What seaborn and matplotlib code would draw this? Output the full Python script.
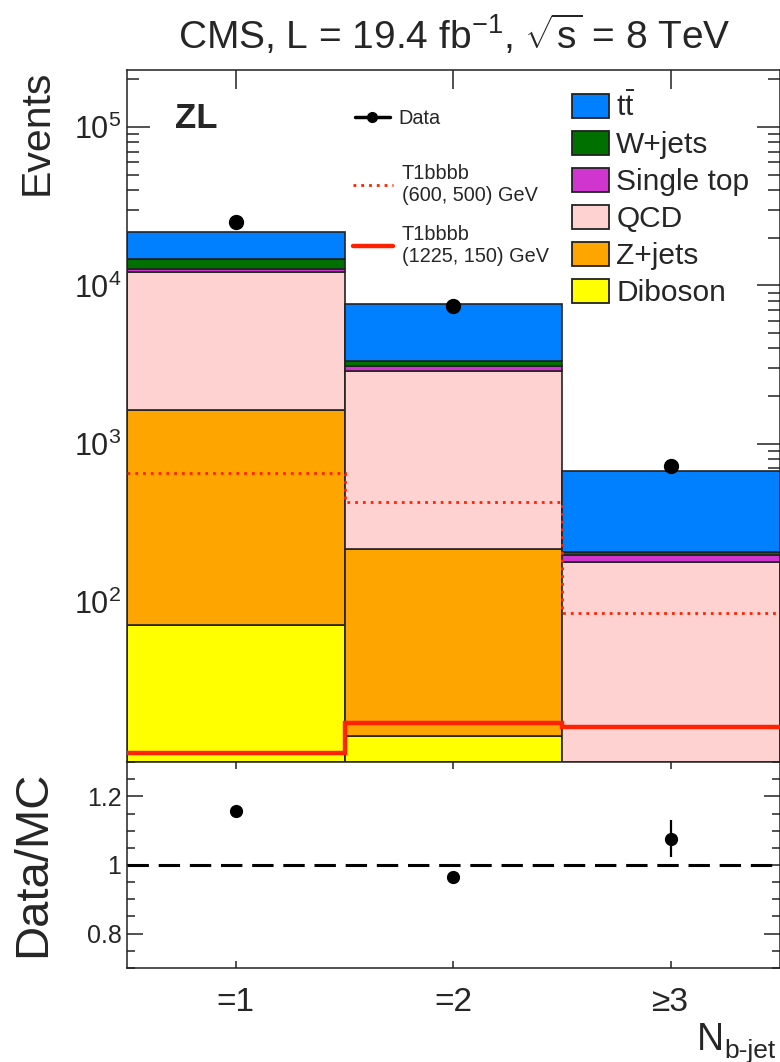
import numpy as np
import pandas as pd
import matplotlib
matplotlib.use("Agg")
import matplotlib.pyplot as plt
import seaborn as sns
from matplotlib.patches import Patch
from matplotlib.lines import Line2D
from matplotlib.ticker import FixedLocator, NullFormatter, NullLocator, LogLocator, MultipleLocator, FuncFormatter

sns.set_theme(style="ticks")
plt.rcParams["font.family"] = ["Liberation Sans", "DejaVu Sans"]
plt.rcParams["mathtext.fontset"] = "custom"
plt.rcParams["mathtext.rm"] = "Liberation Sans"
plt.rcParams["mathtext.it"] = "Liberation Sans:italic"
plt.rcParams["mathtext.bf"] = "Liberation Sans:bold"

# --- binning -------------------------------------------------------------
nb_bins = [1, 2, 3]
nb_labels = ["=1", "=2", "≥3"]
bin_edges = [0.5, 1.5, 2.5, 3.5]

# --- background processes (top of stack first) ----------------------------
processes = ["ttbar", "W+jets", "Single top", "QCD", "Z+jets", "Diboson"]
legend_labels = [r"t$\bar{\mathrm{t}}$", "W+jets", "Single top", "QCD", "Z+jets", "Diboson"]
colors = ["#0080ff", "#007000", "#d035d0", "#ffd2d2", "#ffa500", "#ffff00"]

ttbar = [7100, 4310, 468]
wjets = [1850, 230, 8]
single_top = [610, 235, 19]
qcd = [10506, 2669, 173]
zjets = [1563, 202, 6]
diboson = [71.5, 14.3, 1.0]

# --- observed data and signal models -------------------------------------
data = [25100, 7400, 727]
ratio_err = [0.012, 0.013, 0.053]

sig_600_500 = [658, 430, 85]
sig_1225_150 = [11.1, 17.3, 16.4]

yields = dict(zip(processes, [ttbar, wjets, single_top, qcd, zjets, diboson]))
df = pd.DataFrame(
    [(nb, proc, yields[proc][i]) for proc in processes for i, nb in enumerate(nb_bins)],
    columns=["nb", "process", "events"],
)
total_mc = np.sum([yields[p] for p in processes], axis=0)
ratio = np.array(data) / total_mc

W, H = 780, 1062
fig = plt.figure(figsize=(W / 100, H / 100), dpi=100)
x0, x1 = 127 / W, 779.5 / W
ax = fig.add_axes([x0, 1 - 762 / H, x1 - x0, (762 - 70) / H])
axr = fig.add_axes([x0, 1 - 968 / H, x1 - x0, (968 - 762) / H])

edge = "#222222"
sns.histplot(
    data=df, x="nb", weights="events", hue="process", hue_order=processes,
    palette=dict(zip(processes, colors)), multiple="stack", bins=bin_edges,
    element="bars", alpha=1, edgecolor=edge, linewidth=1.2, legend=False, ax=ax,
)
ax.set_yscale("log")

red = "#ff2200"
ax.stairs(sig_600_500, bin_edges, baseline=None, color=red, lw=2.0,
          ls=(0, (1.0, 1.8)), zorder=5)
ax.stairs(sig_1225_150, bin_edges, baseline=None, color=red, lw=3.2, zorder=5)
ax.errorbar(nb_bins, data, yerr=np.sqrt(data), fmt="o", color="black",
            ms=10, elinewidth=1.5, capsize=0, zorder=6)

ax.set_xlim(0.5, 3.5)
ax.set_ylim(9.8, 2.29e5)
ax.set_xlabel("")
ax.set_ylabel("")
ax.xaxis.set_major_locator(FixedLocator(nb_bins))
ax.xaxis.set_minor_locator(NullLocator())
ax.xaxis.set_major_formatter(NullFormatter())
ax.yaxis.set_major_locator(FixedLocator([1e2, 1e3, 1e4, 1e5]))
ax.yaxis.set_minor_locator(LogLocator(base=10, subs=np.arange(2, 10), numticks=10))
ax.yaxis.set_minor_formatter(NullFormatter())
ax.tick_params(axis="both", which="both", direction="in", top=True, right=True,
               color="#222222", width=1.1)
ax.tick_params(axis="x", which="major", length=14)
ax.tick_params(axis="y", which="major", length=16.5, labelsize=22, pad=4)
ax.tick_params(axis="y", which="minor", length=8.6)
for s in ax.spines.values():
    s.set_linewidth(1.1)
    s.set_color("#222222")

ax.text(0.074, 0.93, "ZL", transform=ax.transAxes, fontsize=25,
        fontweight="bold", ha="left", va="center")

# --- legends -----------------------------------------------------------------
def fig_xy(px, py):
    return (px / W, 1 - py / H)

bkg_handles = [Patch(facecolor=c, edgecolor=edge, linewidth=1.3) for c in colors]
leg_bkg = ax.legend(bkg_handles, legend_labels, loc="center left",
                    bbox_to_anchor=fig_xy(572, 200), bbox_transform=fig.transFigure,
                    frameon=False, fontsize=21.5, handlelength=1.23, handleheight=0.86,
                    handletextpad=0.25, labelspacing=0.29, borderpad=0, borderaxespad=0)
ax.add_artist(leg_bkg)

data_handle = Line2D([], [], color="black", lw=2.5, marker="o", ms=7)
leg_data = ax.legend([data_handle], ["Data"], loc="center left",
                     bbox_to_anchor=fig_xy(355, 118), bbox_transform=fig.transFigure,
                     frameon=False, fontsize=14.3, handlelength=1.75,
                     handletextpad=0.45, borderpad=0, borderaxespad=0)
ax.add_artist(leg_data)

sig_handles = [
    Line2D([], [], color=red, lw=2.0, ls=(0, (1.0, 1.8))),
    Line2D([], [], color=red, lw=3.2),
]
sig_labels = ["T1bbbb\n(600, 500) GeV", "T1bbbb\n(1225, 150) GeV"]
ax.legend(sig_handles, sig_labels, loc="center left",
          bbox_to_anchor=fig_xy(353, 215), bbox_transform=fig.transFigure,
          frameon=False, fontsize=14.3, handlelength=2.0, handletextpad=0.45,
          labelspacing=1.05, borderpad=0, borderaxespad=0)

# --- ratio panel ---------------------------------------------------------------
axr.axhline(1.0, color="black", lw=2.2, ls=(0, (7, 3.2)), zorder=2)
axr.errorbar(nb_bins, ratio, yerr=ratio_err, fmt="o", color="black",
             ms=8.5, elinewidth=1.6, capsize=0, zorder=3)
axr.set_xlim(0.5, 3.5)
axr.set_ylim(0.7, 1.3)
axr.xaxis.set_major_locator(FixedLocator(nb_bins))
axr.set_xticklabels(nb_labels)
axr.yaxis.set_major_locator(FixedLocator([0.8, 1.0, 1.2]))
axr.yaxis.set_minor_locator(MultipleLocator(0.05))
axr.yaxis.set_major_formatter(FuncFormatter(lambda v, p: f"{v:g}"))
axr.tick_params(axis="both", which="both", direction="in", top=True, right=True,
                color="#222222", width=1.1)
axr.tick_params(axis="x", which="major", length=5, labelsize=24, pad=14)
axr.tick_params(axis="y", which="major", length=11.5, labelsize=18, pad=4)
axr.tick_params(axis="y", which="minor", length=6)
for s in axr.spines.values():
    s.set_linewidth(1.1)
    s.set_color("#222222")

# axis titles
ax.set_ylabel("Events", fontsize=29.5, loc="top")
ax.yaxis.set_label_coords(-0.11, 1.0)
axr.set_ylabel("Data/MC", fontsize=34, loc="top")
axr.yaxis.set_label_coords(-0.11, 0.96)
fig.text(724 / W, 1 - 1050 / H, "N", fontsize=27, ha="right", va="baseline")
fig.text(724.5 / W, 1 - 1058 / H, "b-jet", fontsize=19, ha="left", va="baseline")

fig.text(0.583, 1 - 35 / H, r"CMS, L = 19.4 fb$^{-1}$, $\sqrt{\mathrm{s}}$ = 8 TeV",
         fontsize=28, ha="center", va="center")

fig.savefig("out.png", dpi=100)
